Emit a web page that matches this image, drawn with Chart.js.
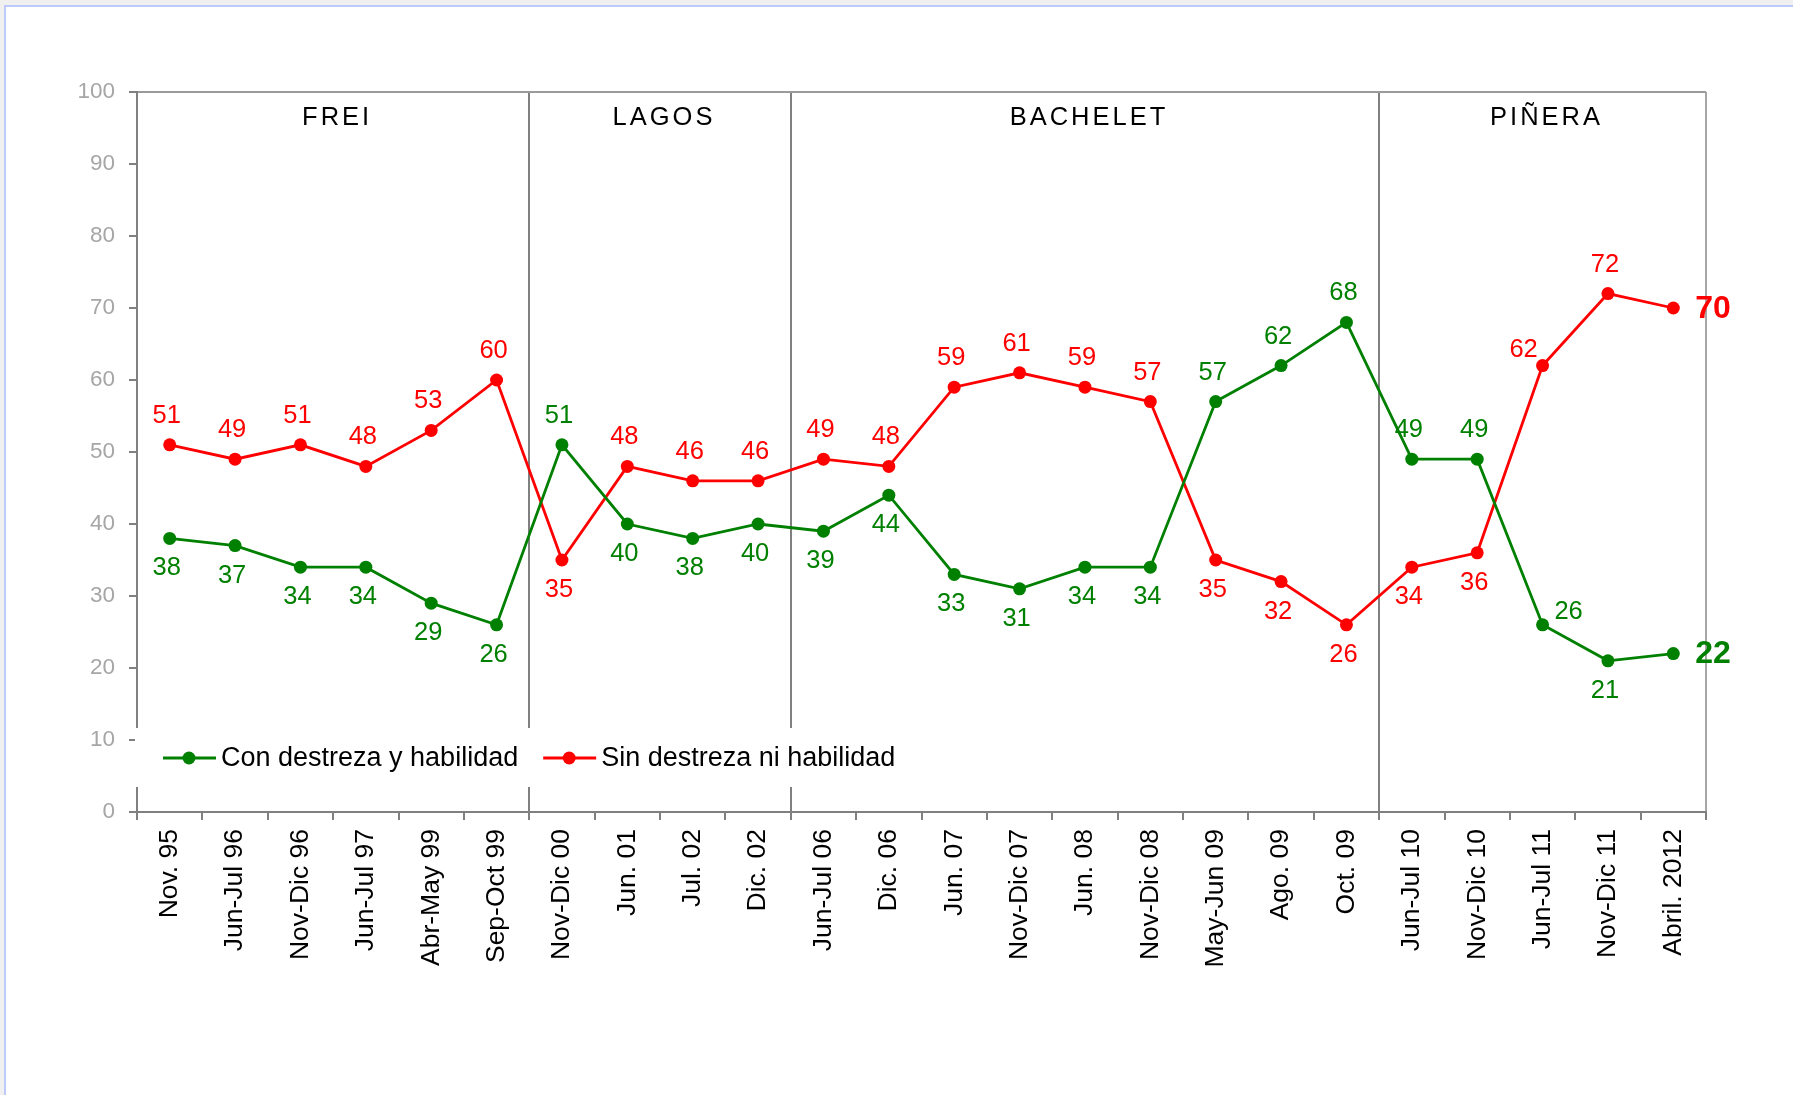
<!DOCTYPE html>
<html>
<head>
<meta charset="utf-8">
<script src="https://cdn.jsdelivr.net/npm/chart.js@4.4.0/dist/chart.umd.min.js"></script>
<style>
body { margin:0; background:#f0f0f0; width:1793px; height:1095px; overflow:hidden; position:relative }
#marco { position:absolute; left:4px; top:5px; right:0; bottom:0; background:#fff; border-top:2px solid #bccbfa; border-left:2px solid #bccbfa }
canvas { position:absolute; left:0; top:0 }
</style>
</head>
<body>
<div id="marco"></div>
<canvas id="grafico" width="1793" height="1095"></canvas>
<script>
// DATOS
const fechas = ["Nov. 95", "Jun-Jul 96", "Nov-Dic 96", "Jun-Jul 97", "Abr-May 99", "Sep-Oct 99",
    "Nov-Dic 00", "Jun. 01", "Jul. 02", "Dic. 02",
    "Jun-Jul 06", "Dic. 06", "Jun. 07", "Nov-Dic 07", "Jun. 08", "Nov-Dic 08", "May-Jun 09", "Ago. 09", "Oct. 09",
    "Jun-Jul 10", "Nov-Dic 10", "Jun-Jul 11", "Nov-Dic 11", "Abril. 2012"]
const conDestreza = [38, 37, 34, 34, 29, 26, 51, 40, 38, 40, 39, 44, 33, 31, 34, 34, 57, 62, 68, 49, 49, 26, 21, 22]
const sinDestreza = [51, 49, 51, 48, 53, 60, 35, 48, 46, 46, 49, 48, 59, 61, 59, 57, 35, 32, 26, 34, 36, 62, 72, 70]
const gobiernos = ["FREI", "LAGOS", "BACHELET", "PIÑERA"]
const inicioGobierno = [0, 6, 10, 19, 24]
const yTicks = [0, 10, 20, 30, 40, 50, 60, 70, 80, 90, 100]

const FUENTE = '"Liberation Sans", Arial, sans-serif'
Chart.defaults.font.family = FUENTE

// etiquetas que no van arriba/abajo (dx, dy por serie)
const ajusteEtiqueta = { "Jun-Jul 11": [[26, -13], [-19, -16]] }

const etiquetasDatos = {
    id: "etiquetasDatos",
    afterDatasetsDraw(chart) {
        let ctx = chart.ctx
        let series = chart.data.datasets
        ctx.save()
        ctx.textAlign = "center"
        ctx.textBaseline = "middle"
        series.forEach((ds, d) => {
            let otra = series[1 - d].data
            chart.getDatasetMeta(d).data.forEach((pt, i) => {
                ctx.fillStyle = ds.borderColor
                if (i == ds.data.length - 1) {
                    ctx.font = "bold 32px " + FUENTE
                    ctx.textAlign = "left"
                    ctx.fillText(String(ds.data[i]), pt.x + 22, pt.y + 1)
                    ctx.textAlign = "center"
                    return
                }
                ctx.font = "25.5px " + FUENTE
                let dx = -3, dy = ds.data[i] > otra[i] ? -29 : 30
                let aj = ajusteEtiqueta[fechas[i]]
                if (aj) { dx = aj[d][0]; dy = aj[d][1] }
                ctx.fillText(String(ds.data[i]), pt.x + dx, pt.y + dy)
            })
        })
        ctx.restore()
    }
}

const periodos = {
    id: "periodos",
    afterDraw(chart) {
        let ctx = chart.ctx
        let x = chart.scales.x
        ctx.save()
        ctx.font = "25.5px " + FUENTE
        ctx.fillStyle = "#000"
        ctx.textAlign = "center"
        ctx.textBaseline = "middle"
        ctx.letterSpacing = "3px"
        gobiernos.forEach((g, k) => {
            let centro = (x.getPixelForValue(inicioGobierno[k]) + x.getPixelForValue(inicioGobierno[k + 1] - 1)) / 2
            ctx.fillText(g, centro + 4, chart.chartArea.top + 26)
        })
        ctx.restore()
    }
}

const leyenda = {
    id: "leyenda",
    afterDraw(chart) {
        let ctx = chart.ctx
        let area = chart.chartArea
        let yc = area.bottom - 54
        ctx.save()
        ctx.font = "27px " + FUENTE
        let anchoTotal = 26
        chart.data.datasets.forEach(ds => { anchoTotal += 58 + ctx.measureText(ds.label).width + 25 })
        ctx.fillStyle = "#fff"
        ctx.fillRect(area.left - 2, area.bottom - 84, anchoTotal, 59)
        let x = area.left + 26
        chart.data.datasets.forEach(ds => {
            ctx.strokeStyle = ds.borderColor
            ctx.lineWidth = 2.8
            ctx.beginPath()
            ctx.moveTo(x, yc)
            ctx.lineTo(x + 53, yc)
            ctx.stroke()
            ctx.fillStyle = ds.borderColor
            ctx.beginPath()
            ctx.arc(x + 26, yc, 6.5, 0, Math.PI * 2)
            ctx.fill()
            ctx.fillStyle = "#000"
            ctx.textBaseline = "middle"
            ctx.fillText(ds.label, x + 58, yc + 1)
            x += 58 + ctx.measureText(ds.label).width + 25
        })
        ctx.restore()
    }
}

let divisiones = inicioGobierno.slice(1, -1)

new Chart(document.getElementById("grafico"), {
    type: "line",
    data: {
        labels: fechas,
        datasets: [{
            label: "Con destreza y habilidad",
            data: conDestreza,
            borderColor: "#008000",
            backgroundColor: "#008000",
            pointBackgroundColor: "#008000",
            borderWidth: 2.8,
            pointRadius: 6.5,
            pointBorderWidth: 0,
            tension: 0
        }, {
            label: "Sin destreza ni habilidad",
            data: sinDestreza,
            borderColor: "#ff0000",
            backgroundColor: "#ff0000",
            pointBackgroundColor: "#ff0000",
            borderWidth: 2.8,
            pointRadius: 6.5,
            pointBorderWidth: 0,
            tension: 0
        }]
    },
    options: {
        responsive: false,
        animation: false,
        devicePixelRatio: 1,
        layout: { padding: { left: 0, top: 92, right: 87, bottom: 0 } },
        plugins: { legend: { display: false }, tooltip: { enabled: false } },
        scales: {
            x: {
                offset: true,
                grid: {
                    offset: true,
                    lineWidth: 2,
                    tickLength: 8,
                    tickColor: "#808080",
                    color: c => c.index === undefined ? "#a6a6a6" : (divisiones.includes(c.index) ? "#808080" : "transparent")
                },
                border: { color: "#808080", width: 2 },
                ticks: { color: "#000", font: { size: 26.5 }, minRotation: 90, maxRotation: 90, autoSkip: false, padding: 9 },
                afterFit: s => { s.height = 283 }
            },
            y: {
                min: 0,
                max: 100,
                afterBuildTicks: s => { s.ticks = yTicks.map(v => ({ value: v })) },
                grid: {
                    lineWidth: 2,
                    tickLength: 8,
                    tickColor: "#808080",
                    color: c => c.tick && c.tick.value === 100 ? "#9a9a9a" : "transparent"
                },
                border: { color: "#808080", width: 2 },
                ticks: { color: "#a6a6a6", font: { size: 22.5 }, padding: 14 },
                afterFit: s => { s.width = 137 }
            }
        }
    },
    plugins: [etiquetasDatos, periodos, leyenda]
})
</script>
</body>
</html>
